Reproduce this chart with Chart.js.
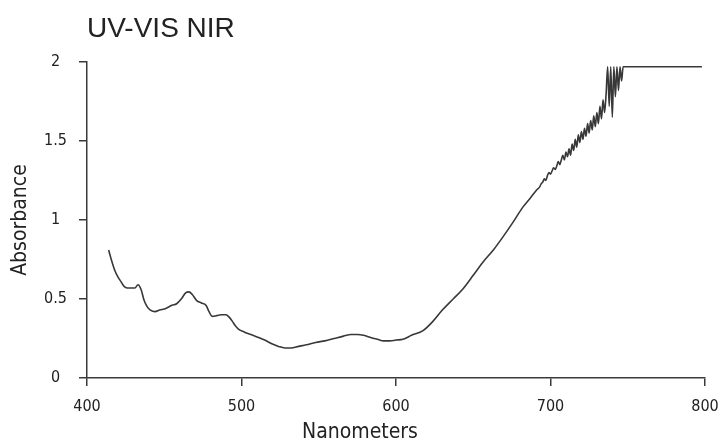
<!DOCTYPE html>
<html>
<head>
<meta charset="utf-8">
<script src="https://cdn.jsdelivr.net/npm/chart.js@4/dist/chart.umd.min.js"></script>
<style>
  html, body { margin: 0; padding: 0; background: #fff; }
  #wrap { width: 722px; height: 442px; position: relative; }
</style>
</head>
<body>
<div id="wrap"><canvas id="chart" width="722" height="442"></canvas></div>
<script>
// wavelength (nm) and absorbance
const wavelengths = [
  414, 416, 418, 420, 422, 424, 426, 429, 431, 433, 435, 437, 439, 441, 444, 447, 451, 455, 458, 461,
  464, 466, 468, 471, 474, 477, 479, 481, 484, 487, 490, 492, 494, 496, 498, 502, 506, 510, 515, 520,
  524, 528, 532, 537, 542, 548, 554, 560, 566, 571, 575, 579, 584, 588, 592, 596, 600, 604.5, 610, 617.5,
  624, 630, 637, 643, 650, 656, 663, 669, 676, 682, 687, 691,
  693, 694, 695, 696, 697, 698, 699, 700, 701, 702, 703, 704, 705, 706, 707, 708, 709, 710, 711, 712,
  713, 714, 715, 716, 717, 718, 719, 720, 721, 722, 723, 724, 725, 726, 727, 728, 729, 730, 731, 732,
  733, 734, 735, 736, 737, 738, 739, 740, 741, 742, 743, 744, 745, 746, 747, 798
];
const absorbance = [
  0.81, 0.74, 0.68, 0.64, 0.61, 0.58, 0.57, 0.57, 0.57, 0.59, 0.56, 0.49, 0.45, 0.43, 0.42, 0.43, 0.44, 0.46, 0.47, 0.50,
  0.54, 0.545, 0.53, 0.49, 0.475, 0.46, 0.42, 0.39, 0.395, 0.40, 0.40, 0.385, 0.36, 0.33, 0.31, 0.29, 0.275, 0.26, 0.24, 0.215,
  0.20, 0.19, 0.19, 0.20, 0.21, 0.225, 0.235, 0.25, 0.265, 0.275, 0.275, 0.27, 0.255, 0.245, 0.235, 0.235, 0.24, 0.245, 0.27, 0.30,
  0.36, 0.43, 0.50, 0.56, 0.65, 0.73, 0.81, 0.89, 0.99, 1.08, 1.14, 1.19,
  1.21, 1.23, 1.24, 1.26, 1.25, 1.28, 1.30, 1.29, 1.31, 1.33, 1.32, 1.34, 1.37, 1.35, 1.38, 1.41, 1.38, 1.43, 1.40, 1.45,
  1.41, 1.48, 1.44, 1.51, 1.46, 1.54, 1.49, 1.56, 1.51, 1.58, 1.53, 1.61, 1.55, 1.63, 1.57, 1.66, 1.59, 1.68, 1.61, 1.72,
  1.64, 1.76, 1.68, 1.80, 1.97, 1.72, 1.97, 1.65, 1.97, 1.78, 1.97, 1.82, 1.97, 1.88, 1.97, 1.97
];
const xTicks = [400, 500, 600, 700, 800];
const yTicks = [0, 0.5, 1, 1.5, 2];

const points = wavelengths.map((w, i) => ({ x: w, y: absorbance[i] }));
const axisColor = '#3a3a3a';
const font = "'Liberation Sans Narrow', 'DejaVu Sans Condensed', sans-serif";

// chart title and x axis title, placed like the original
const textPlugin = {
  id: 'extraText',
  afterDraw(chart) {
    const ctx = chart.ctx;
    ctx.save();
    ctx.fillStyle = '#222';
    ctx.font = "28px 'Liberation Sans', Arial, sans-serif";
    ctx.textAlign = 'left';
    ctx.textBaseline = 'alphabetic';
    ctx.fillText('UV-VIS NIR', 87, 37);
    ctx.font = '21px ' + font;
    ctx.textAlign = 'center';
    ctx.textBaseline = 'middle';
    ctx.fillText('Nanometers', 360, 433);
    ctx.restore();
  }
};

new Chart(document.getElementById('chart'), {
  type: 'line',
  data: {
    datasets: [{
      data: points,
      borderColor: '#383838',
      borderWidth: 1.6,
      pointRadius: 0,
      cubicInterpolationMode: 'monotone',
      fill: false
    }]
  },
  options: {
    responsive: false,
    animation: false,
    layout: { padding: { left: 0, top: 62, right: 17, bottom: 0 } },
    plugins: { legend: { display: false }, tooltip: { enabled: false } },
    scales: {
      x: {
        type: 'linear',
        min: 400, max: 800,
        afterBuildTicks: s => { s.ticks = xTicks.map(v => ({ value: v })); },
        afterFit: s => { s.height = 64; s.paddingRight = 0; s.paddingLeft = 0; },
        grid: { drawOnChartArea: false, drawTicks: true, tickLength: 8, color: axisColor, lineWidth: 1.5 },
        border: { display: true, color: axisColor, width: 1.5 },
        ticks: { color: '#222', font: { family: font, size: 16 }, padding: 11, maxRotation: 0 }
      },
      y: {
        min: 0, max: 2,
        afterBuildTicks: s => { s.ticks = yTicks.map(v => ({ value: v })); },
        afterFit: s => { s.width = 87; s.paddingTop = 0; s.paddingBottom = 0; },
        grid: { drawOnChartArea: false, drawTicks: true, tickLength: 8, color: axisColor, lineWidth: 1.5 },
        border: { display: true, color: axisColor, width: 1.5 },
        ticks: { color: '#222', font: { family: font, size: 16 }, padding: 12, crossAlign: 'center', callback: v => String(v) },
        title: { display: true, text: 'Absorbance', color: '#222', font: { family: font, size: 21 }, padding: { top: 8, bottom: 0 } }
      }
    }
  },
  plugins: [textPlugin]
});
</script>
</body>
</html>
